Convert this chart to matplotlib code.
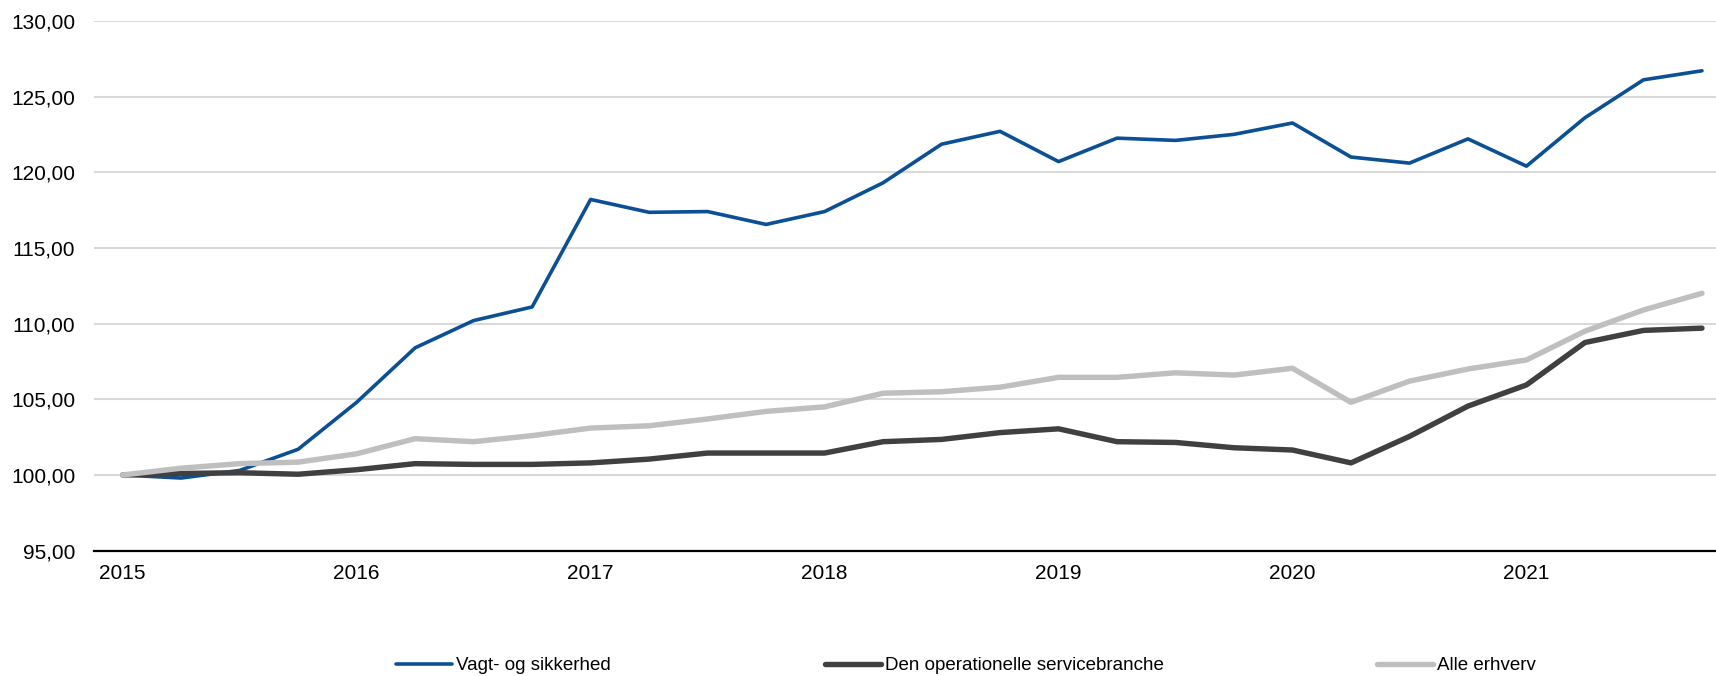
import matplotlib
matplotlib.use("Agg")
import matplotlib.pyplot as plt
import numpy as np

plt.rcParams['font.family'] = ['Liberation Sans', 'DejaVu Sans']

years = ["2015", "2016", "2017", "2018", "2019", "2020", "2021"]
quarters_per_year = 4

vagt = [100.0, 99.8, 100.3, 101.7, 104.8, 108.4, 110.2, 111.1,
        118.2, 117.35, 117.4, 116.55, 117.4, 119.3, 121.85, 122.7,
        120.7, 122.25, 122.1, 122.5, 123.25, 121.0, 120.6, 122.2,
        120.4, 123.6, 126.1, 126.7]
operationelle = [100.0, 100.1, 100.15, 100.05, 100.35, 100.75, 100.7, 100.7,
                 100.8, 101.05, 101.45, 101.45, 101.45, 102.2, 102.35, 102.8,
                 103.05, 102.2, 102.15, 101.8, 101.65, 100.8, 102.55, 104.55,
                 105.95, 108.75, 109.55, 109.7]
alle = [100.0, 100.45, 100.75, 100.85, 101.4, 102.4, 102.2, 102.6,
        103.1, 103.25, 103.7, 104.2, 104.5, 105.4, 105.5, 105.8,
        106.45, 106.45, 106.75, 106.6, 107.05, 104.8, 106.2, 107.0,
        107.6, 109.5, 110.9, 112.0]

series_names = ["Vagt- og sikkerhed", "Den operationelle servicebranche", "Alle erhverv"]
colors = ["#0B4F94", "#404040", "#BFBFBF"]
widths = [2.6, 3.9, 3.9]

W, H = 1716, 676
fig = plt.figure(figsize=(W / 100, H / 100), dpi=100)
ax_left = 94 / W
ax_bottom = 1 - 550.7 / H
ax_top = 1 - 20.8 / H
ax = fig.add_axes([ax_left, ax_bottom, 1 - ax_left, ax_top - ax_bottom])

x = np.arange(len(vagt))
handles = []
for data, name, c, lw in zip([vagt, operationelle, alle], series_names, colors, widths):
    h, = ax.plot(x, data, color=c, lw=lw, label=name,
                 solid_joinstyle='round', solid_capstyle='round', zorder=3)
    handles.append(h)

ax.set_ylim(95, 130)
ax.set_yticks(np.arange(95, 131, 5))
ax.set_yticklabels([f"{v:.2f}".replace(".", ",") for v in np.arange(95, 131, 5)])
ax.set_xlim(-0.49, 27.24)
ax.set_xticks(np.arange(len(years)) * quarters_per_year)
ax.set_xticklabels(years)

ax.grid(axis='y', color='#D9D9D9', lw=1.5, zorder=0)
ax.set_axisbelow(True)
for s in ['top', 'right', 'left']:
    ax.spines[s].set_visible(False)
ax.spines['bottom'].set_color('black')
ax.spines['bottom'].set_linewidth(1.6)
ax.spines['bottom'].set_zorder(4)
ax.tick_params(axis='both', length=0, labelsize=15, colors='black')
ax.tick_params(axis='y', pad=13.5)
ax.tick_params(axis='x', pad=9.5)

legend_x = [396 / W, 825 / W, 1377 / W]
for h, lx in zip(handles, legend_x):
    fig.legend(handles=[h], loc='center left', bbox_to_anchor=(lx, 1 - 665.5 / H),
               frameon=False, fontsize=13.5, handlelength=3.0, handletextpad=0.2,
               borderpad=0, borderaxespad=0)

fig.savefig("out.png", dpi=100)
